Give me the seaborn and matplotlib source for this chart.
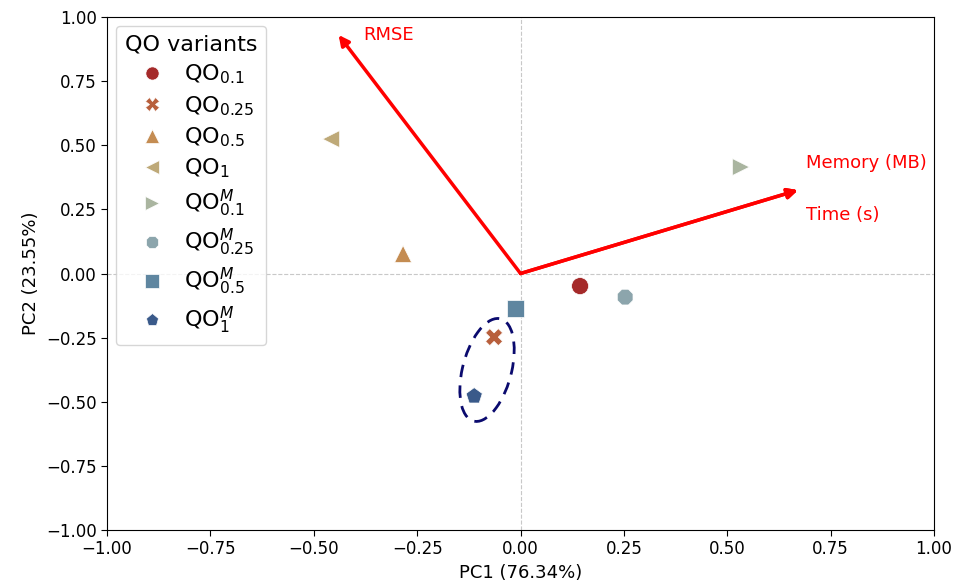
import matplotlib
matplotlib.use("Agg")
import matplotlib.pyplot as plt
from matplotlib.patches import Ellipse
import seaborn as sns
import pandas as pd

variants = [r"QO$_{0.1}$", r"QO$_{0.25}$", r"QO$_{0.5}$", r"QO$_{1}$",
            r"QO$^{M}_{0.1}$", r"QO$^{M}_{0.25}$", r"QO$^{M}_{0.5}$", r"QO$^{M}_{1}$"]
pc1 = [0.144, -0.064, -0.284, -0.458, 0.533, 0.253, -0.011, -0.112]
pc2 = [-0.049, -0.248, 0.076, 0.524, 0.415, -0.092, -0.138, -0.478]
colors = ["#a52a2a", "#b85f3c", "#c48c52", "#bea978", "#aab5a0", "#8ca5ac", "#5f86a0", "#3a5a8a"]
markers = ["o", "X", "^", "<", ">", "8", "s", "p"]

loading_names = ["RMSE", "Memory (MB)", "Time (s)"]
loading_x = [-0.44, 0.671, 0.671]
loading_y = [0.93, 0.325, 0.325]
label_x = [-0.38, 0.69, 0.69]
label_y = [0.93, 0.43, 0.23]

df = pd.DataFrame({"PC1": pc1, "PC2": pc2, "variant": variants})

plt.style.use("default")
plt.rcParams['font.family'] = ['DejaVu Sans']
fig = plt.figure(figsize=(9.58, 5.88), dpi=100)
ax = fig.add_axes([0.1117, 0.0986, 0.8633, 0.8725])

ax.axhline(0, color="#c8c8c8", lw=0.8, ls="--", zorder=0)
ax.axvline(0, color="#c8c8c8", lw=0.8, ls="--", zorder=0)

sns.scatterplot(data=df, x="PC1", y="PC2", hue="variant", style="variant",
                palette=dict(zip(variants, colors)), markers=dict(zip(variants, markers)),
                s=150, ax=ax, edgecolor="white", linewidth=0.5, zorder=3)

for name, lx, ly, tx, ty in zip(loading_names, loading_x, loading_y, label_x, label_y):
    ax.annotate("", xy=(lx, ly), xytext=(0, 0),
                arrowprops=dict(arrowstyle="-|>", color="red", lw=2.5,
                                mutation_scale=15, shrinkA=0, shrinkB=0), zorder=2)
    ax.text(tx, ty, name, color="red", fontsize=13, ha="left", va="center")

ell = Ellipse((-0.081, -0.376), width=0.12, height=0.405, angle=-8,
              fill=False, edgecolor="#0a0a6e", lw=2, ls=(0, (4.5, 3)), zorder=4)
ax.add_patch(ell)

ax.set_xlim(-1, 1)
ax.set_ylim(-1, 1)
ticks = [-1.0, -0.75, -0.5, -0.25, 0.0, 0.25, 0.5, 0.75, 1.0]
ax.set_xticks(ticks)
ax.set_yticks(ticks)
ax.tick_params(axis="both", labelsize=12, length=4, direction="out")
ax.set_xlabel("PC1 (76.34%)", fontsize=13)
ax.set_ylabel("PC2 (23.55%)", fontsize=13)

leg = ax.legend(title="QO variants", loc="upper left", fontsize=16, title_fontsize=16,
                frameon=True, handlelength=2.2, handletextpad=0.35, labelspacing=0.35,
                borderaxespad=0.4)
for h in leg.legend_handles:
    if hasattr(h, "set_markersize"):
        h.set_markersize(9.5)
    elif hasattr(h, "set_sizes"):
        h.set_sizes([100])

fig.savefig("out.png", dpi=100)
